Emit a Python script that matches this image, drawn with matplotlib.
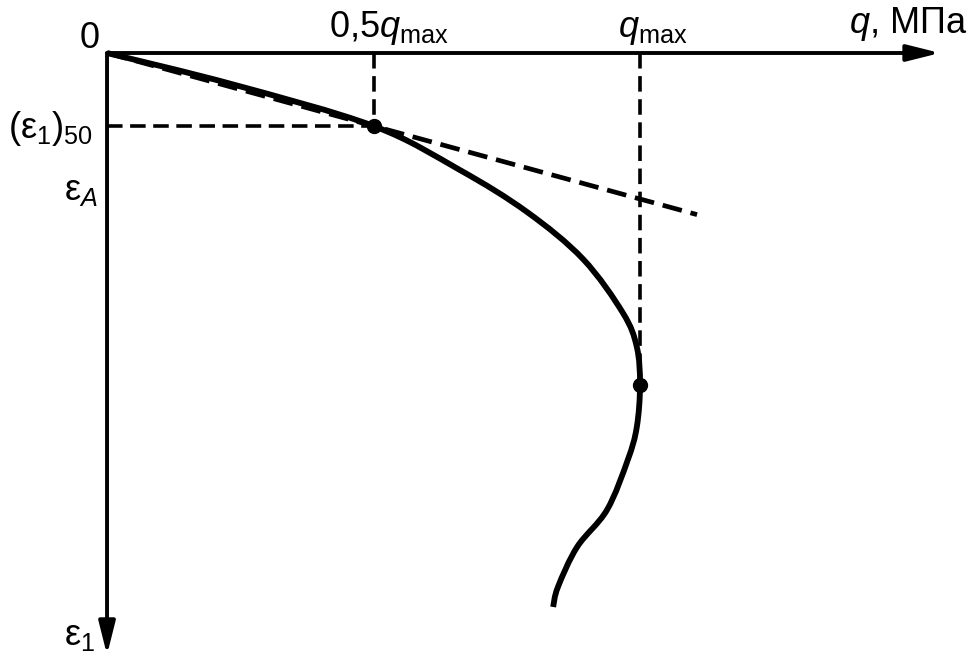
import matplotlib
matplotlib.use('Agg')
import matplotlib.pyplot as plt
from matplotlib.path import Path
from matplotlib.patches import PathPatch

plt.rcParams['font.family'] = ['Liberation Sans', 'DejaVu Sans']
plt.rcParams['mathtext.fontset'] = 'custom'
plt.rcParams['mathtext.rm'] = 'Liberation Sans'
plt.rcParams['mathtext.it'] = 'Liberation Sans:italic'

# q in units of q_max, strain in units of (eps1)_50
q_curve = [0, 0.236, 0.5, 0.662, 0.788, 0.893, 0.968, 0.994, 1.0,
           0.994, 0.977, 0.938, 0.882, 0.846, 0.837]
eps_curve = [0, 0.43, 1.0, 1.603, 2.178, 2.822, 3.562, 4.027, 4.548,
             5.123, 5.575, 6.260, 6.767, 7.315, 7.589]

q_half = 0.5
eps_50 = 1.0
q_max = 1.0
eps_at_qmax = 4.548
eps_A = 1.88
tangent_q = [0, 1.107]
tangent_eps = [0, 2.214]
q_axis_end = 1.563
eps_axis_end = 8.247

fig = plt.figure(figsize=(9.71, 6.61), dpi=100)
ax = fig.add_axes([0, 0, 1, 1])
ax.set_xlim(-0.2008, 1.621)
ax.set_ylim(8.329, -0.726)
ax.axis('off')

# axes with arrows
arrow = dict(arrowstyle='-|>,head_length=1.0,head_width=0.25', lw=2.8,
             color='black', shrinkA=0, shrinkB=0, mutation_scale=20)
ax.annotate('', xy=(q_axis_end, 0), xytext=(0, 0), arrowprops=arrow)
ax.annotate('', xy=(0, eps_axis_end), xytext=(0, 0), arrowprops=arrow)

# guide lines
guide = dict(color='black', lw=2.6, linestyle=(0, (4.3, 2.1)))
ax.plot([q_half, q_half], [0, eps_50], **guide)
ax.plot([0, q_half], [eps_50, eps_50], **guide)
ax.plot([q_max, q_max], [0, eps_at_qmax], **guide)

# secant modulus line
ax.plot(tangent_q, tangent_eps, color='black', lw=3.4, linestyle=(0, (4.2, 1.9)))

# stress-strain curve, drawn as a smooth bezier path through the read points
pts = list(zip(q_curve, eps_curve))
verts = [pts[0]]
codes = [Path.MOVETO]
for i in range(len(pts) - 1):
    p0 = pts[max(i - 1, 0)]
    p1 = pts[i]
    p2 = pts[i + 1]
    p3 = pts[min(i + 2, len(pts) - 1)]
    c1 = (p1[0] + (p2[0] - p0[0]) / 6, p1[1] + (p2[1] - p0[1]) / 6)
    c2 = (p2[0] - (p3[0] - p1[0]) / 6, p2[1] - (p3[1] - p1[1]) / 6)
    verts += [c1, c2, p2]
    codes += [Path.CURVE4] * 3
ax.add_patch(PathPatch(Path(verts, codes), fill=False, lw=4.2, color='black',
                       capstyle='butt', joinstyle='round'))
ax.plot([q_half, q_max], [eps_50, eps_at_qmax], 'o', color='black', ms=10)

fs = 26


def label(txt, x, y, dx, dy, ha):
    ax.annotate(txt, xy=(x, y), xytext=(dx, dy), textcoords='offset pixels',
                ha=ha, va='baseline', fontsize=fs)


label('0', 0, 0, -7, 5, 'right')
label(r'$0{,}5q_{\mathrm{max}}$', q_half, 0, -45, 16, 'left')
label(r'$q_{\mathrm{max}}$', q_max, 0, -22, 16, 'left')
label(r'$q$, МПа', q_axis_end, 0, 27, 20, 'right')
label(r'$(\mathrm{ε}_1)_{50}$', 0, eps_50, -14, -12, 'right')
label(r'$\mathrm{ε}_A$', 0, eps_A, -9, -10, 'right')
label(r'$\mathrm{ε}_1$', 0, eps_axis_end, -12, 10, 'right')

fig.savefig('out.png', dpi=100)
